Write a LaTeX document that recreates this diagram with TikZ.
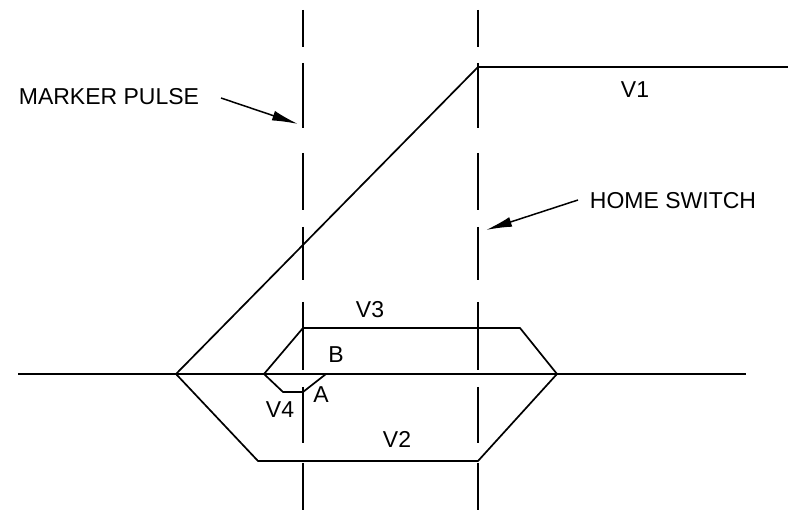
\documentclass[tikz,border=0pt]{standalone}
\usepackage{fontspec}
\setmainfont{Liberation Sans}
\usetikzlibrary{arrows.meta}
\begin{document}
\begin{tikzpicture}[x=1pt,y=-1pt,
  ln/.style={line width=1.7pt,line join=miter},
  lbl/.style={inner sep=0pt,anchor=base,font=\fontsize{23}{23}\selectfont},
  arr/.style={line width=1.5pt,-{Latex[length=26pt,width=10pt]}}]
\useasboundingbox (0,0) rectangle (788,510);
% dashed guide lines (explicit dashes)
\foreach \a/\b in {10/47,63/128,153/210,227/280,302/370,387/443,463/510}{
  \draw[ln] (303,\a) -- (303,\b);
  \draw[ln] (478,\a) -- (478,\b);
}
% baseline
\coordinate (L) at (18,374);
\coordinate (R) at (746,374);
\draw[ln] (L) -- (R);
% V1
\coordinate (s) at (176,374);
\coordinate (v1a) at (478,67);
\coordinate (v1b) at (788,67);
\draw[ln] (s) -- (v1a) -- (v1b);
% V2
\coordinate (v2a) at (258,461);
\coordinate (v2b) at (478,461);
\coordinate (v2c) at (557,374);
\draw[ln] (s) -- (v2a) -- (v2b) -- (v2c);
% V3
\coordinate (s3) at (264,374);
\coordinate (v3a) at (303,328);
\coordinate (v3b) at (520,328);
\draw[ln] (s3) -- (v3a) -- (v3b) -- (v2c);
% V4
\coordinate (v4a) at (283,392);
\coordinate (v4b) at (303,392);
\coordinate (v4c) at (326,374);
\draw[ln] (s3) -- (v4a) -- (v4b) -- (v4c);
% labels
\node[lbl] (tV1) at (635,98) {V1};
\node[lbl] (tV2) at (397,448) {V2};
\node[lbl] (tV3) at (370,318) {V3};
\node[lbl] (tV4) at (280,418) {V4};
\node[lbl] (tB) at (336,363) {B};
\node[lbl] (tA) at (321,403) {A};
\node[lbl] (mp) at (109,105) {MARKER PULSE};
\node[lbl] (hs) at (673,209) {HOME SWITCH};
% arrows
\coordinate (mps) at (221,98);
\coordinate (mpt) at (298,124);
\draw[arr] (mps) -- (mpt);
\coordinate (hss) at (578,200);
\coordinate (hst) at (486,230);
\draw[arr] (hss) -- (hst);
\end{tikzpicture}
\end{document}
